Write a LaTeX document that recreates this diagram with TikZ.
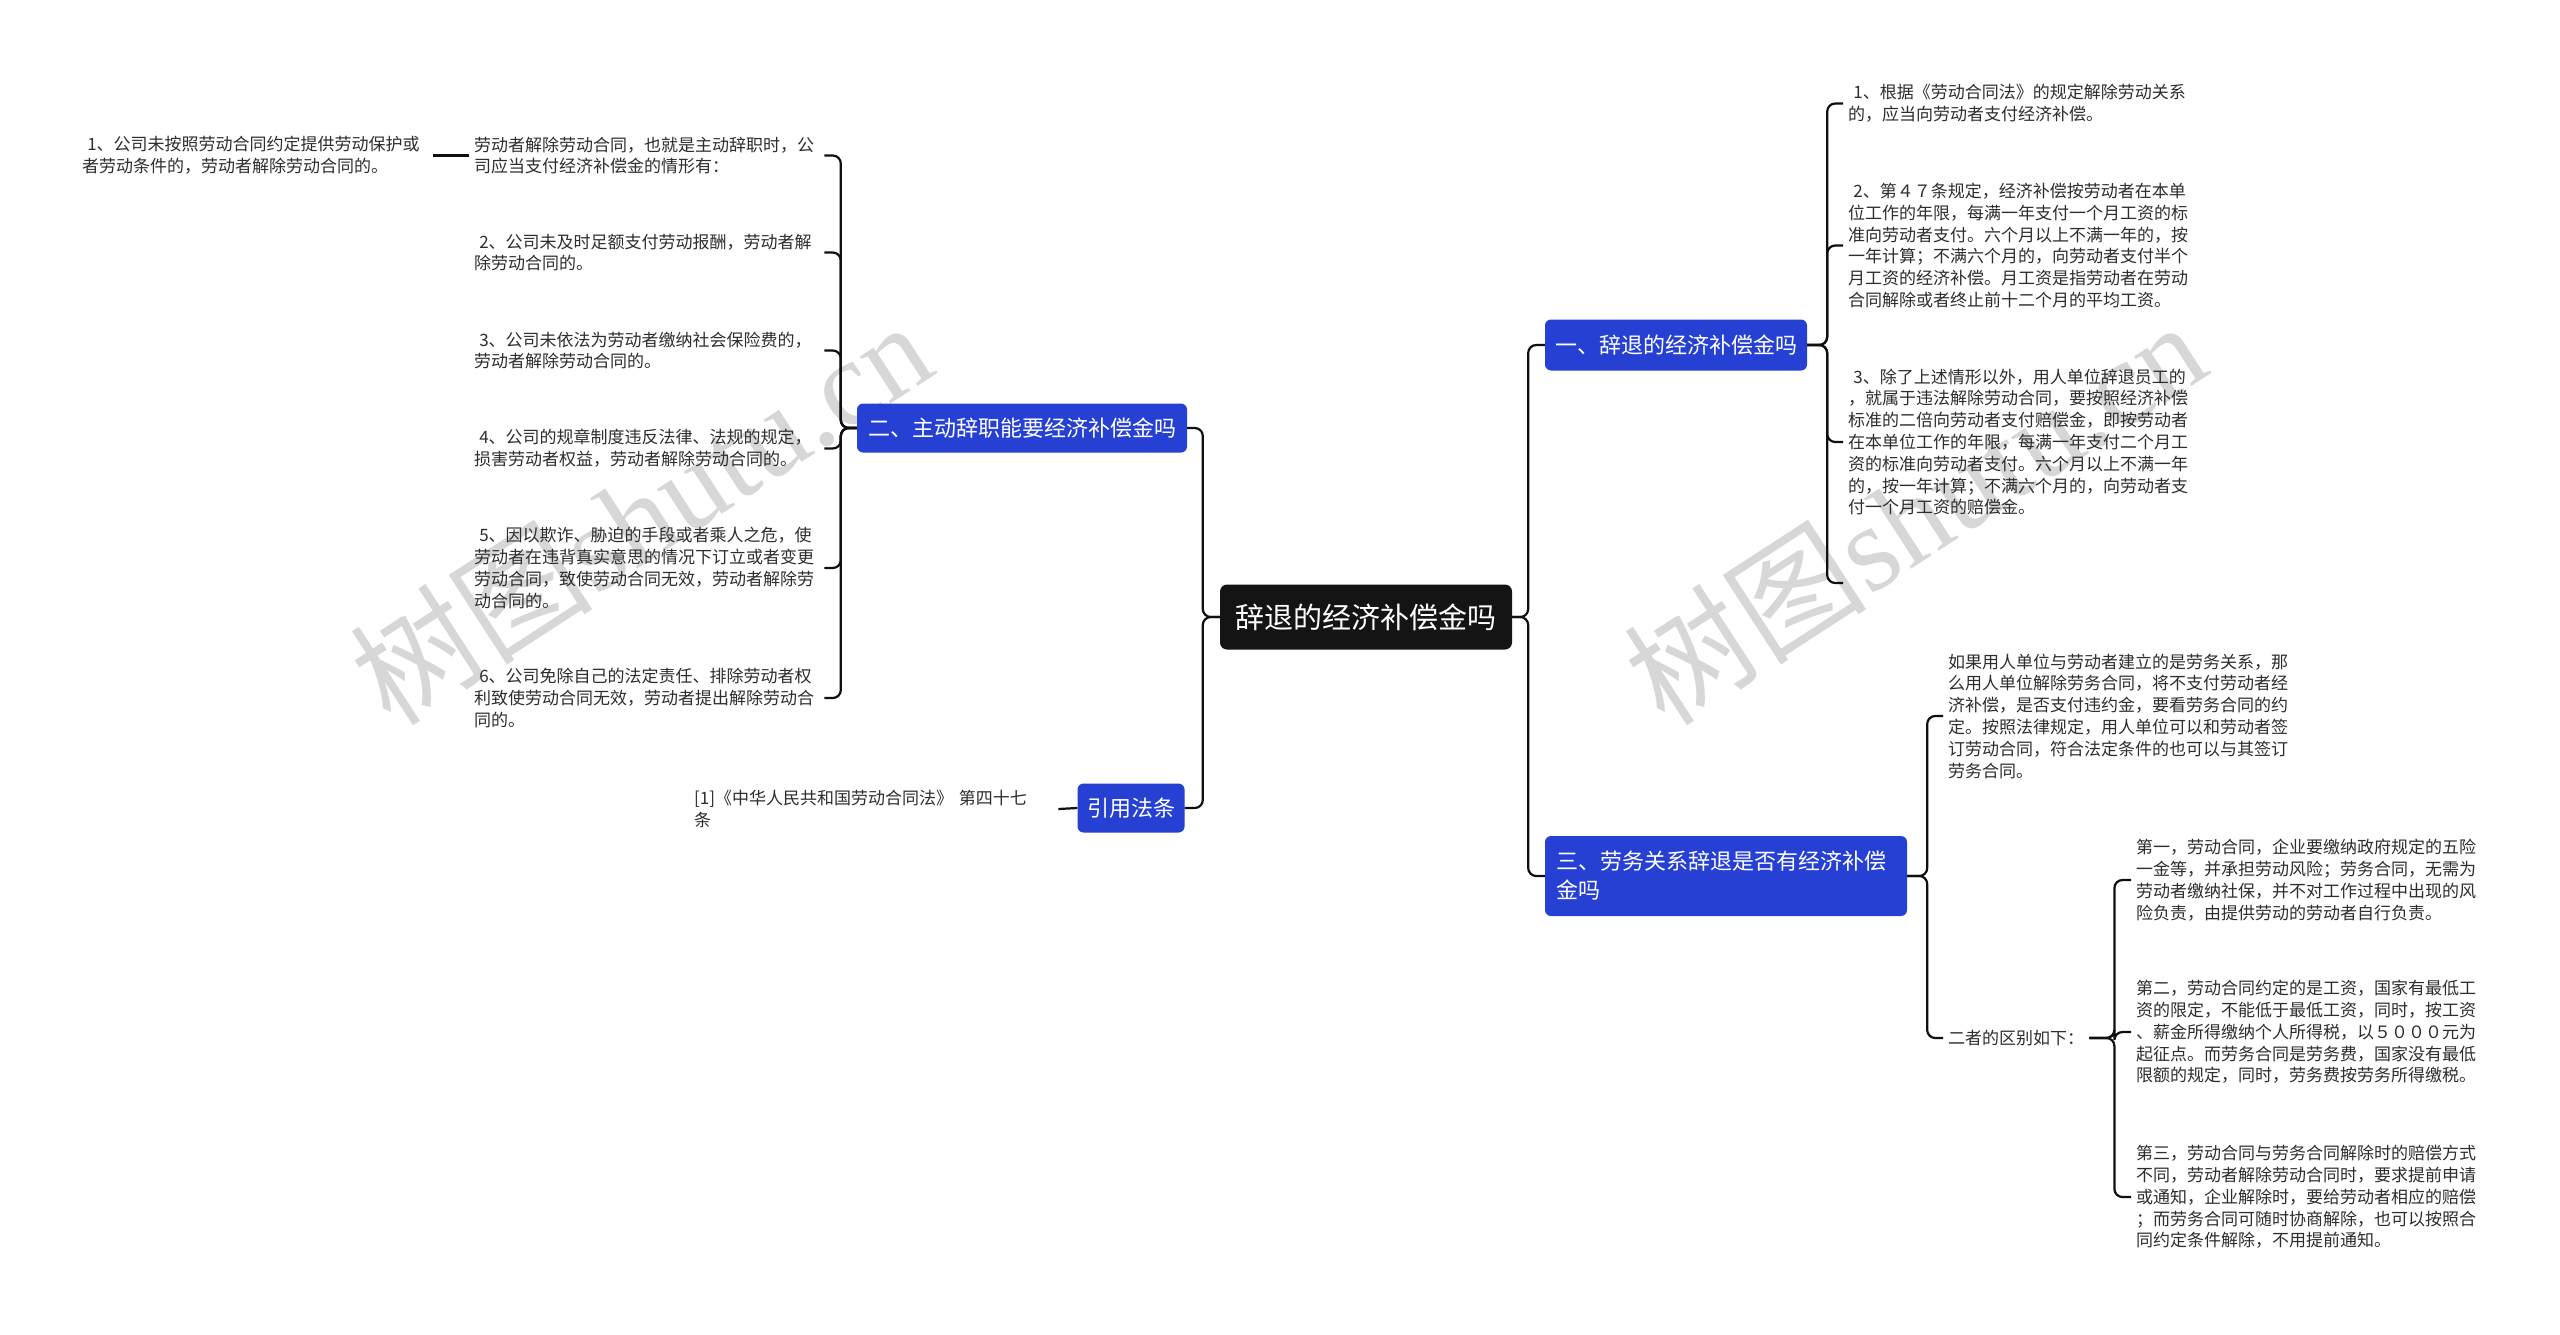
\documentclass[tikz,border=0pt]{standalone}
\usepackage{fontspec}
\setmainfont{Noto Sans CJK SC}
\newfontfamily\wmfont{Liberation Serif}
\definecolor{bluec}{RGB}{37,64,211}
\definecolor{rootc}{RGB}{20,20,20}
\definecolor{textc}{RGB}{45,45,45}
\definecolor{linec}{RGB}{15,15,15}
\definecolor{wmc}{RGB}{215,215,215}
\newcommand\lsp{\hspace*{0.3em}}
\tikzset{
  conn/.style={draw=linec, line width=2.2pt, rounded corners=8pt},
  rootbox/.style={fill=rootc, text=white, rounded corners=7pt, minimum width=292pt, minimum height=65pt, inner sep=0pt, font=\fontsize{29}{34}\selectfont},
  mainbox/.style={fill=bluec, text=white, rounded corners=6pt, inner sep=0pt, font=\fontsize{22}{29}\selectfont},
  leaf/.style={text=textc, align=left, inner xsep=5pt, inner ysep=2pt, anchor=west, font=\fontsize{17}{21.8}\selectfont},
  wmark/.style={text=wmc, rotate=33, inner sep=0pt, font=\fontsize{122}{130}\selectfont}
}
\begin{document}
\begin{tikzpicture}[x=1pt,y=-1pt]
\fill[white] (0,0) rectangle (2560,1334);
\useasboundingbox (0,0) rectangle (2560,1334);
% watermarks
\node[wmark] (wm1) at (640,512) {树图{\wmfont shutu.cn}};
\node[wmark] (wm2) at (1914,512) {树图{\wmfont shutu.cn}};
% root and main branches
\node[rootbox] (root) at (1366,617) {辞退的经济补偿金吗};
\node[mainbox, minimum width=262pt, minimum height=51pt] (b1) at (1676,345) {一、辞退的经济补偿金吗};
\node[mainbox, minimum width=330pt, minimum height=49pt] (b2) at (1022,428) {二、主动辞职能要经济补偿金吗};
\node[mainbox, text width=340pt, inner xsep=11pt, minimum height=80pt, align=left] (b3) at (1726,876) {三、劳务关系辞退是否有经济补偿\\金吗};
\node[mainbox, minimum width=107pt, minimum height=49pt] (b4) at (1131,808) {引用法条};
% left leaves
\node[leaf, text width=346pt] (l0) at (77,155.5) {\lsp 1、公司未按照劳动合同约定提供劳动保护或\\者劳动条件的，劳动者解除劳动合同的。};
\node[leaf, text width=345pt] (l1) at (469,155.5) {劳动者解除劳动合同，也就是主动辞职时，公\\司应当支付经济补偿金的情形有：};
\node[leaf, text width=345pt] (l2) at (469,252.5) {\lsp 2、公司未及时足额支付劳动报酬，劳动者解\\除劳动合同的。};
\node[leaf, text width=345pt] (l3) at (469,350.5) {\lsp 3、公司未依法为劳动者缴纳社会保险费的，\\劳动者解除劳动合同的。};
\node[leaf, text width=345pt] (l4) at (469,448.5) {\lsp 4、公司的规章制度违反法律、法规的规定，\\损害劳动者权益，劳动者解除劳动合同的。};
\node[leaf, text width=345pt] (l5) at (469,568) {\lsp 5、因以欺诈、胁迫的手段或者乘人之危，使\\劳动者在违背真实意思的情况下订立或者变更\\劳动合同，致使劳动合同无效，劳动者解除劳\\动合同的。};
\node[leaf, text width=345pt] (l6) at (469,698) {\lsp 6、公司免除自己的法定责任、排除劳动者权\\利致使劳动合同无效，劳动者提出解除劳动合\\同的。};
\node[leaf, text width=359pt] (l7) at (689,809) {[1]《中华人民共和国劳动合同法》 第四十七\\条};
% right leaves of branch 1
\node[leaf, text width=345pt] (r1) at (1843,103.5) {\lsp 1、根据《劳动合同法》的规定解除劳动关系\\的，应当向劳动者支付经济补偿。};
\node[leaf, text width=345pt] (r2) at (1843,245.5) {\lsp 2、第４７条规定，经济补偿按劳动者在本单\\位工作的年限，每满一年支付一个月工资的标\\准向劳动者支付。六个月以上不满一年的，按\\一年计算；不满六个月的，向劳动者支付半个\\月工资的经济补偿。月工资是指劳动者在劳动\\合同解除或者终止前十二个月的平均工资。};
\node[leaf, text width=345pt] (r3) at (1843,442) {\lsp 3、除了上述情形以外，用人单位辞退员工的\\，就属于违法解除劳动合同，要按照经济补偿\\标准的二倍向劳动者支付赔偿金，即按劳动者\\在本单位工作的年限，每满一年支付二个月工\\资的标准向劳动者支付。六个月以上不满一年\\的，按一年计算；不满六个月的，向劳动者支\\付一个月工资的赔偿金。};
\coordinate (b1end) at (1843,583);
% right leaves of branch 3
\node[leaf, text width=350pt] (r4) at (1943,716) {如果用人单位与劳动者建立的是劳务关系，那\\么用人单位解除劳务合同，将不支付劳动者经\\济补偿，是否支付违约金，要看劳务合同的约\\定。按照法律规定，用人单位可以和劳动者签\\订劳动合同，符合法定条件的也可以与其签订\\劳务合同。};
\node[leaf] (r5) at (1943,1038) {二者的区别如下：};
\node[leaf, text width=345pt] (r6) at (2131,880) {第一，劳动合同，企业要缴纳政府规定的五险\\一金等，并承担劳动风险；劳务合同，无需为\\劳动者缴纳社保，并不对工作过程中出现的风\\险负责，由提供劳动的劳动者自行负责。};
\node[leaf, text width=345pt] (r7) at (2131,1032) {第二，劳动合同约定的是工资，国家有最低工\\资的限定，不能低于最低工资，同时，按工资\\、薪金所得缴纳个人所得税，以５０００元为\\起征点。而劳务合同是劳务费，国家没有最低\\限额的规定，同时，劳务费按劳务所得缴税。};
\node[leaf, text width=345pt] (r8) at (2131,1197) {第三，劳动合同与劳务合同解除时的赔偿方式\\不同，劳动者解除劳动合同时，要求提前申请\\或通知，企业解除时，要给劳动者相应的赔偿\\；而劳务合同可随时协商解除，也可以按照合\\同约定条件解除，不用提前通知。};
% connectors
\draw[conn] (root.west) -- ++(-17,0) |- (b2.east);
\draw[conn] (root.west) -- ++(-17,0) |- (b4.east);
\draw[conn] (root.east) -- ++(16,0) |- (b1.west);
\draw[conn] (root.east) -- ++(16,0) |- (b3.west);
\foreach \n in {l1,l2,l3,l4,l5,l6}{\draw[conn] (b2.west) -- ++(-16,0) |- (\n.east);}
\draw[conn] (l1.west) -- (l0.east);
\draw[conn] (b4.west) -- (l7.east);
\foreach \n in {r1,r2,r3,b1end}{\draw[conn] (b1.east) -- ++(20,0) |- (\n);}
\draw[conn] (b3.east) -- ++(20,0) |- (r4.west);
\draw[conn] (b3.east) -- ++(20,0) |- (r5.west);
\foreach \n in {r6,r7,r8}{\draw[conn] (r5.east) -- ++(25,0) |- (\n.west);}
\end{tikzpicture}
\end{document}
